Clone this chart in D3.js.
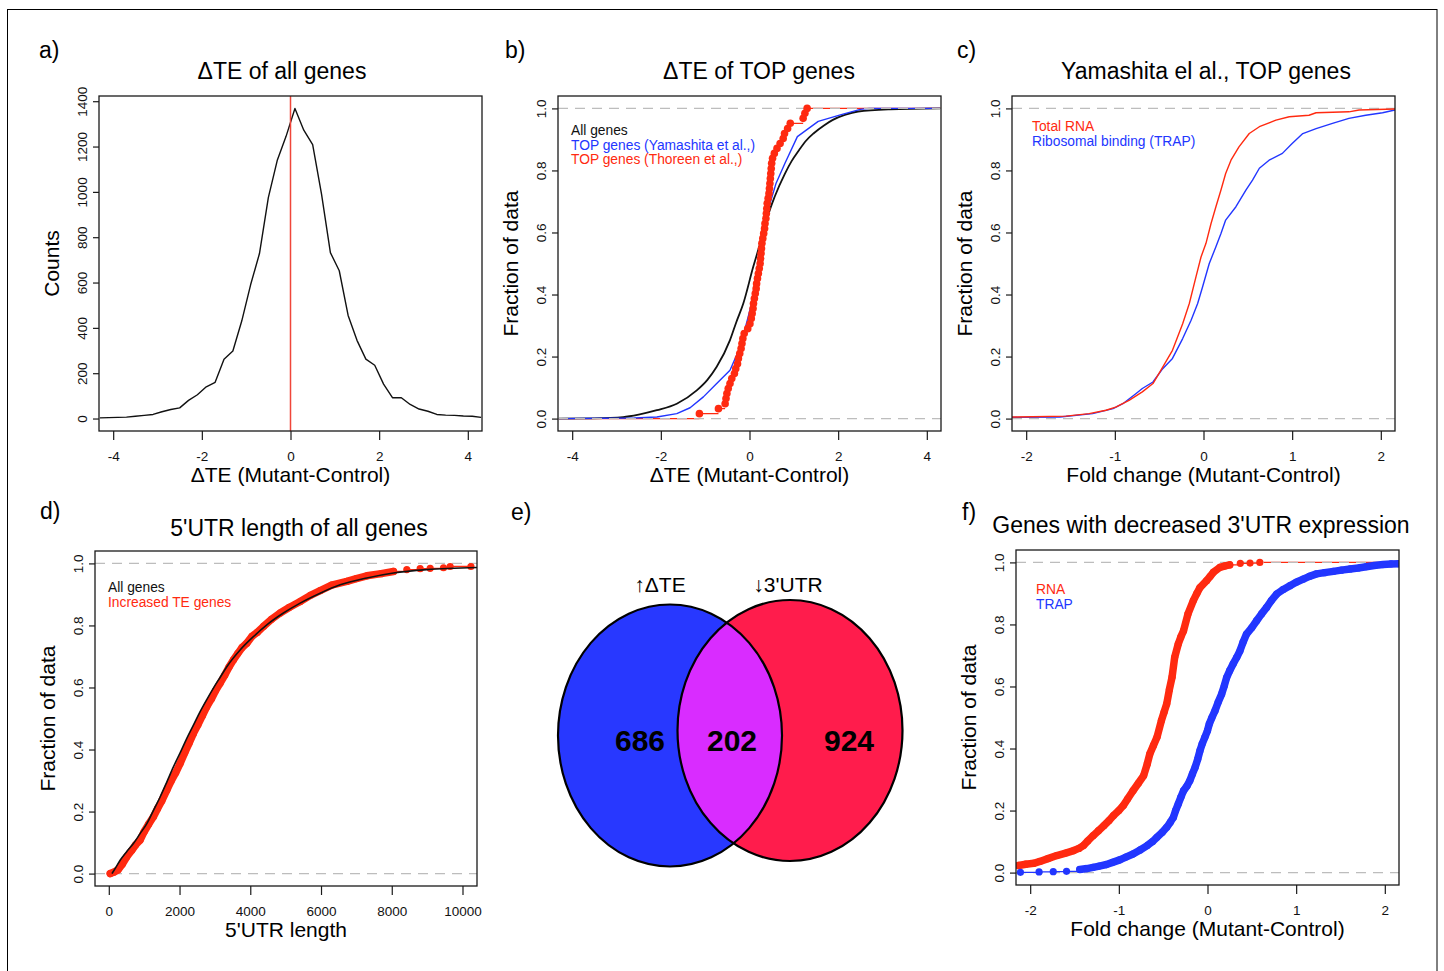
<!DOCTYPE html>
<html>
<head>
<meta charset="utf-8">
<script src="https://cdnjs.cloudflare.com/ajax/libs/d3/7.8.5/d3.min.js"></script>
<style>
body { margin: 0; background: #fff; }
svg { font-family: "Liberation Sans", Arial, Helvetica, sans-serif; }
</style>
</head>
<body>
<div id="chart"></div>
<script>
// ---- panel a: histogram of dTE (bin centre, count)
const aBins = [-4.3,-4.1,-3.9,-3.7,-3.5,-3.3,-3.1,-2.9,-2.7,-2.5,-2.3,-2.1,-1.9,-1.7,-1.5,-1.3,-1.1,-0.9,-0.7,-0.5,-0.3,-0.1,
               0.1,0.3,0.5,0.7,0.9,1.1,1.3,1.5,1.7,1.9,2.1,2.3,2.5,2.7,2.9,3.1,3.3,3.5,3.7,3.9,4.1,4.3];
const aCounts = [3,4,5,6,10,14,18,30,40,47,80,105,140,160,262,298,430,590,728,975,1138,1245,
                 1368,1272,1208,990,732,652,455,345,262,235,152,92,92,62,42,32,18,15,14,11,10,5];

// ---- panel b: ECDFs of dTE
const bAll = [[-4.3,0],[-3.5,0.001],[-2.85,0.005],[-2.5,0.013],[-2.09,0.027],[-1.64,0.048],[-1.19,0.091],[-0.95,0.125],
              [-0.74,0.167],[-0.44,0.253],[-0.3,0.31],[-0.14,0.371],[0.086,0.49],[0.2,0.545],[0.31,0.597],[0.43,0.66],
              [0.57,0.716],[0.8,0.79],[0.95,0.83],[1.12,0.866],[1.27,0.895],[1.45,0.92],[1.68,0.945],[1.88,0.963],
              [2.15,0.979],[2.45,0.99],[3.17,0.997],[4.3,1.0]];
const bYamashita = [[-4.3,0],[-2.6,0.002],[-2.09,0.005],[-1.64,0.016],[-1.34,0.035],[-1.04,0.07],[-0.74,0.113],[-0.44,0.156],
                    [-0.21,0.231],[-0.03,0.328],[0.16,0.436],[0.30,0.565],[0.42,0.673],[0.60,0.759],[0.80,0.823],[1.08,0.909],
                    [1.55,0.958],[2.05,0.979],[2.5,0.997],[2.7,1.0],[4.3,1.0]];
const bThoreen = [[-1.13,0.016],[-0.70,0.032],[-0.55,0.048],[-0.53,0.065],[-0.51,0.081],[-0.48,0.097],[-0.44,0.113],[-0.40,0.129],
                  [-0.34,0.145],[-0.31,0.161],[-0.27,0.177],[-0.25,0.194],[-0.22,0.210],[-0.19,0.226],[-0.17,0.242],[-0.15,0.258],
                  [-0.12,0.274],[-0.04,0.290],[0.01,0.306],[0.04,0.323],[0.06,0.339],[0.08,0.355],[0.09,0.371],[0.11,0.387],
                  [0.13,0.403],[0.15,0.419],[0.16,0.435],[0.18,0.452],[0.20,0.468],[0.22,0.484],[0.24,0.500],[0.25,0.516],
                  [0.26,0.532],[0.27,0.548],[0.28,0.565],[0.30,0.581],[0.32,0.597],[0.34,0.613],[0.35,0.629],[0.37,0.645],
                  [0.38,0.661],[0.39,0.677],[0.40,0.694],[0.42,0.710],[0.44,0.726],[0.45,0.742],[0.46,0.758],[0.47,0.774],
                  [0.48,0.790],[0.49,0.806],[0.50,0.823],[0.52,0.839],[0.56,0.855],[0.62,0.871],[0.69,0.887],[0.76,0.903],
                  [0.79,0.919],[0.86,0.935],[0.92,0.952],[1.21,0.968],[1.25,0.984],[1.30,1.0]];

// ---- panel c: Yamashita TOP genes, fold change
const cRna = [[-2.16,0.005],[-1.55,0.008],[-1.29,0.016],[-1.10,0.027],[-0.99,0.037],[-0.84,0.059],[-0.69,0.086],[-0.57,0.113],
              [-0.46,0.166],[-0.35,0.22],[-0.235,0.306],[-0.16,0.371],[-0.085,0.457],[-0.028,0.521],[0.028,0.565],[0.085,0.629],
              [0.14,0.683],[0.197,0.737],[0.25,0.79],[0.31,0.833],[0.40,0.876],[0.516,0.919],[0.63,0.941],[0.817,0.962],
              [0.967,0.973],[1.19,0.978],[1.27,0.986],[1.64,0.989],[1.755,0.995],[2.16,0.998]];
const cTrap = [[-2.16,0.004],[-1.62,0.005],[-1.25,0.016],[-1.02,0.032],[-0.91,0.048],[-0.76,0.081],[-0.69,0.097],[-0.57,0.118],
               [-0.46,0.161],[-0.35,0.194],[-0.235,0.258],[-0.14,0.317],[-0.066,0.371],[-0.01,0.425],[0.065,0.5],[0.14,0.554],
               [0.197,0.597],[0.25,0.64],[0.366,0.683],[0.48,0.737],[0.553,0.769],[0.63,0.807],[0.74,0.833],[0.89,0.855],
               [1.0,0.887],[1.12,0.919],[1.27,0.935],[1.455,0.952],[1.64,0.968],[1.83,0.978],[2.02,0.986],[2.16,0.995]];

// ---- panel d: 5'UTR length ECDF
const dAll = [[90,0],[200,0.02],[320,0.043],[500,0.07],[696,0.097],[880,0.128],[1075,0.161],[1260,0.203],[1451,0.247],
              [1640,0.295],[1827,0.344],[2020,0.39],[2206,0.436],[2400,0.48],[2582,0.522],[2770,0.561],[2958,0.598],
              [3150,0.633],[3337,0.667],[3713,0.721],[4089,0.764],[4468,0.802],[4938,0.84],[5410,0.872],[5976,0.904],
              [6541,0.931],[7296,0.953],[8049,0.969],[8993,0.98],[10410,0.987]];
const dIncreased = [[40,0.0],[150,0.005],[260,0.012],[380,0.03],[509,0.054],[650,0.075],[760,0.093],[885,0.108],[1000,0.135],
                    [1130,0.16],[1261,0.183],[1380,0.21],[1500,0.235],[1640,0.269],[1760,0.298],[1890,0.325],[2016,0.355],
                    [2150,0.39],[2270,0.42],[2392,0.452],[2520,0.48],[2650,0.51],[2771,0.538],[2900,0.563],[3020,0.59],
                    [3148,0.614],[3280,0.64],[3400,0.666],[3524,0.689],[3650,0.71],[3770,0.729],[3903,0.743],[4050,0.765],
                    [4200,0.778],[4374,0.797],[4600,0.82],[4844,0.84],[5100,0.858],[5410,0.877],[5700,0.897],[5976,0.912],
                    [6300,0.93],[6731,0.942],[7000,0.951],[7296,0.96],[7700,0.967],[8049,0.974]];
const dIncreasedTail = [[8426,0.98],[8803,0.983],[9086,0.984],[9463,0.986],[9651,0.99],[10238,0.99]];

// ---- panel e: venn counts
const vennLabels = ["\u2191\u0394TE", "\u21933'UTR"];
const vennCounts = [686, 202, 924];

// ---- panel f: genes with decreased 3'UTR expression
const fRna = [[-2.13,0.023],[-2.05,0.027],[-1.96,0.03],[-1.89,0.036],[-1.80,0.045],[-1.70,0.055],[-1.60,0.063],[-1.51,0.071],
              [-1.45,0.078],[-1.40,0.087],[-1.35,0.102],[-1.29,0.119],[-1.23,0.135],[-1.17,0.151],[-1.11,0.168],[-1.06,0.184],
              [-1.00,0.2],[-0.95,0.216],[-0.90,0.238],[-0.84,0.264],[-0.78,0.288],[-0.72,0.313],[-0.68,0.35],[-0.65,0.383],
              [-0.61,0.41],[-0.57,0.436],[-0.52,0.49],[-0.49,0.517],[-0.46,0.544],[-0.43,0.59],[-0.40,0.63],[-0.37,0.694],
              [-0.33,0.737],[-0.30,0.76],[-0.27,0.78],[-0.22,0.834],[-0.16,0.877],[-0.12,0.9],[-0.085,0.919],[-0.01,0.941],
              [0.03,0.955],[0.066,0.968],[0.14,0.984],[0.20,0.989],[0.25,0.992]];
const fRnaTail = [[0.37,0.997],[0.48,0.998],[0.59,1.0]];
const fTrapHead = [[-2.11,0.001],[-1.90,0.002],[-1.74,0.003],[-1.59,0.004]];
const fTrap = [[-1.44,0.01],[-1.36,0.013],[-1.29,0.017],[-1.22,0.021],[-1.14,0.026],[-1.07,0.033],[-0.99,0.041],[-0.92,0.05],
               [-0.84,0.06],[-0.76,0.073],[-0.68,0.087],[-0.62,0.1],[-0.57,0.114],[-0.51,0.13],[-0.46,0.146],[-0.42,0.162],
               [-0.385,0.178],[-0.36,0.2],[-0.33,0.221],[-0.30,0.243],[-0.27,0.264],[-0.23,0.28],[-0.20,0.296],[-0.17,0.318],
               [-0.14,0.339],[-0.11,0.366],[-0.085,0.393],[-0.06,0.415],[-0.03,0.436],[0.0,0.458],[0.02,0.479],[0.05,0.5],
               [0.085,0.522],[0.12,0.549],[0.16,0.576],[0.19,0.603],[0.216,0.629],[0.25,0.651],[0.29,0.673],[0.33,0.694],
               [0.366,0.715],[0.40,0.742],[0.44,0.769],[0.50,0.79],[0.554,0.812],[0.61,0.834],[0.667,0.855],[0.72,0.877],
               [0.78,0.898],[0.85,0.912],[0.93,0.925],[1.0,0.936],[1.08,0.946],[1.15,0.955],[1.23,0.963],[1.32,0.967],
               [1.42,0.971],[1.51,0.975],[1.61,0.979],[1.70,0.982],[1.79,0.986],[1.88,0.99],[1.98,0.993],[2.07,0.995],[2.16,0.996]];

const fracTicks = [0, 0.2, 0.4, 0.6, 0.8, 1.0];

const RED = "#ff2a10", BLUE = "#2236ff", GREY = "#bdbdbd", BOX = "#1a1a1a";

const W = 1444, H = 971;
const svg = d3.select("#chart").append("svg")
    .attr("width", W)
    .attr("height", H)
    .style("background", "#fff");

// outer frame of the figure
svg.append("rect")
    .attr("x", 7.5).attr("y", 9.5)
    .attr("width", 1429.5).attr("height", 1000)
    .attr("fill", "none").attr("stroke", "#000").attr("stroke-width", 1);

let clipId = 0;

function makePanel(o) {
    const x = d3.scaleLinear().domain(o.xDomain).range([o.left, o.right]);
    const y = d3.scaleLinear().domain(o.yDomain).range([o.bottom, o.top]);
    const g = svg.append("g");
    const id = "clip" + (clipId++);
    g.append("clipPath").attr("id", id)
        .append("rect")
        .attr("x", o.left).attr("y", o.top)
        .attr("width", o.right - o.left).attr("height", o.bottom - o.top);
    const plot = g.append("g").attr("clip-path", `url(#${id})`);

    // x axis
    const xa = g.append("g")
        .attr("transform", `translate(0,${o.bottom})`)
        .call(d3.axisBottom(x).tickValues(o.xTicks).tickSizeInner(9).tickSizeOuter(0).tickPadding(11)
            .tickFormat(o.xFormat || (d => d < 0 ? "-" + Math.abs(d) : String(d))));
    xa.select(".domain").remove();
    xa.selectAll("line").attr("stroke", BOX).attr("stroke-width", 1.2);
    xa.selectAll("text").attr("font-size", 13.5).attr("fill", "#111").attr("font-family", null);

    // y axis with labels parallel to the axis
    const ya = g.append("g")
        .attr("transform", `translate(${o.left},0)`)
        .call(d3.axisLeft(y).tickValues(o.yTicks).tickSizeInner(6).tickSizeOuter(0)
            .tickFormat(o.yFormat || d3.format(".1f")));
    ya.select(".domain").remove();
    ya.selectAll("line").attr("stroke", BOX).attr("stroke-width", 1.2);
    ya.selectAll("text")
        .attr("x", null).attr("dy", "0.35em")
        .attr("text-anchor", "middle")
        .attr("transform", "translate(-17,0) rotate(-90)")
        .attr("font-size", 13.5).attr("fill", "#111").attr("font-family", null);

    // box
    g.append("rect")
        .attr("x", o.left).attr("y", o.top)
        .attr("width", o.right - o.left).attr("height", o.bottom - o.top)
        .attr("fill", "none").attr("stroke", BOX).attr("stroke-width", 1.3);

    // texts
    g.append("text").attr("x", o.titleX).attr("y", o.titleY)
        .attr("text-anchor", "middle").attr("font-size", 23).text(o.title);
    g.append("text").attr("x", (o.left + o.right) / 2).attr("y", o.bottom + 51)
        .attr("text-anchor", "middle").attr("font-size", 21).text(o.xLabel);
    g.append("text")
        .attr("transform", `translate(${o.left - 47},${(o.top + o.bottom) / 2}) rotate(-90)`)
        .attr("dy", "0.35em")
        .attr("text-anchor", "middle").attr("font-size", 21).text(o.yLabel);
    g.append("text").attr("x", o.tagX).attr("y", o.tagY)
        .attr("font-size", 23).text(o.tag);

    return { g, plot, x, y, o };
}

function drawLine(p, pts, color, width, curve) {
    return p.plot.append("path")
        .datum(pts)
        .attr("fill", "none")
        .attr("stroke", color)
        .attr("stroke-width", width)
        .attr("stroke-linejoin", "round")
        .attr("d", d3.line().curve(curve || d3.curveLinear).x(d => p.x(d[0])).y(d => p.y(d[1])));
}

// thick stroke imitating overlapping points
function drawBand(p, pts, color) {
    drawLine(p, pts, color, 7.5).attr("stroke-linecap", "round");
}

// ecdf horizontal steps (no verticals)
function drawSteps(p, pts, color) {
    let d = "";
    for (let i = 0; i < pts.length - 1; i++) {
        d += `M${p.x(pts[i][0])},${p.y(pts[i][1])}H${p.x(pts[i + 1][0])}`;
    }
    p.plot.append("path").attr("d", d)
        .attr("fill", "none").attr("stroke", color).attr("stroke-width", 1.3);
}

function drawDots(p, pts, color, r) {
    p.plot.append("g").selectAll("circle")
        .data(pts)
        .join("circle")
        .attr("cx", d => p.x(d[0]))
        .attr("cy", d => p.y(d[1]))
        .attr("r", r)
        .attr("fill", color);
}

function drawExtension(p, x0, x1, yv, color) {
    p.plot.append("line")
        .attr("x1", p.x(x0)).attr("x2", p.x(x1))
        .attr("y1", p.y(yv)).attr("y2", p.y(yv))
        .attr("stroke", color).attr("stroke-width", 1.4);
}

function drawZeroOne(p) {
    p.plot.append("g").selectAll("line")
        .data([0, 1])
        .join("line")
        .attr("x1", p.o.left).attr("x2", p.o.right)
        .attr("y1", d => p.y(d)).attr("y2", d => p.y(d))
        .attr("stroke", GREY).attr("stroke-width", 1.4)
        .attr("stroke-dasharray", "10,7");
}

function drawLegend(p, x, y0, items) {
    p.g.append("g").selectAll("text")
        .data(items)
        .join("text")
        .attr("x", x)
        .attr("y", (d, i) => y0 + i * 14.5)
        .attr("font-size", 13.8)
        .attr("fill", d => d[1])
        .text(d => d[0]);
}

// ================= a =================
const pa = makePanel({
    left: 99, right: 482, top: 96, bottom: 431,
    xDomain: [-4.32, 4.32], yDomain: [-55, 1423],
    xTicks: [-4, -2, 0, 2, 4], yTicks: d3.range(0, 1401, 200), yFormat: d3.format("d"),
    title: "\u0394TE of all genes", titleX: 282, titleY: 79,
    xLabel: "\u0394TE (Mutant-Control)", yLabel: "Counts",
    tag: "a)", tagX: 39, tagY: 58
});
drawLine(pa, aBins.map((b, i) => [b, aCounts[i]]), "#111", 1.4);
pa.plot.append("line")
    .attr("x1", pa.x(0)).attr("x2", pa.x(0))
    .attr("y1", pa.o.top).attr("y2", pa.o.bottom)
    .attr("stroke", "#f0463a").attr("stroke-width", 1.5);

// ================= b =================
const pb = makePanel({
    left: 558, right: 941, top: 96, bottom: 431,
    xDomain: [-4.32, 4.32], yDomain: [-0.04, 1.04],
    xTicks: [-4, -2, 0, 2, 4], yTicks: fracTicks,
    title: "\u0394TE of TOP genes", titleX: 759, titleY: 79,
    xLabel: "\u0394TE (Mutant-Control)", yLabel: "Fraction of data",
    tag: "b)", tagX: 505, tagY: 58
});
drawLine(pb, bAll, "#111", 1.8, d3.curveMonotoneX);
drawExtension(pb, -4.32, bThoreen[0][0], 0, RED);
drawExtension(pb, bThoreen[bThoreen.length - 1][0], 4.32, 1, RED);
drawLine(pb, bYamashita, BLUE, 1.4);
drawZeroOne(pb);
drawSteps(pb, bThoreen, RED);
drawDots(pb, bThoreen, RED, 3.8);
drawLegend(pb, 571, 135, [["All genes", "#111"], ["TOP genes (Yamashita et al.,)", BLUE], ["TOP genes (Thoreen et al.,)", RED]]);

// ================= c =================
const pc = makePanel({
    left: 1012, right: 1395, top: 96, bottom: 431,
    xDomain: [-2.16, 2.16], yDomain: [-0.04, 1.04],
    xTicks: [-2, -1, 0, 1, 2], yTicks: fracTicks,
    title: "Yamashita el al., TOP genes", titleX: 1206, titleY: 79,
    xLabel: "Fold change (Mutant-Control)", yLabel: "Fraction of data",
    tag: "c)", tagX: 957, tagY: 58
});
drawZeroOne(pc);
drawLine(pc, cTrap, BLUE, 1.4);
drawLine(pc, cRna, RED, 1.4);
drawLegend(pc, 1032, 131, [["Total RNA", RED], ["Ribosomal binding (TRAP)", BLUE]]);

// ================= d =================
const pd = makePanel({
    left: 95, right: 477, top: 551, bottom: 886,
    xDomain: [-390, 10410], yDomain: [-0.04, 1.04],
    xTicks: d3.range(0, 10001, 2000), yTicks: fracTicks, xFormat: d3.format("d"),
    title: "5'UTR length of all genes", titleX: 299, titleY: 536,
    xLabel: "5'UTR length", yLabel: "Fraction of data",
    tag: "d)", tagX: 40, tagY: 519
});
drawZeroOne(pd);
drawBand(pd, dIncreased, RED);
drawDots(pd, dIncreased.concat(dIncreasedTail), RED, 3.6);
drawSteps(pd, dIncreased.slice(-1).concat(dIncreasedTail), RED);
drawLine(pd, dAll, "#111", 1.6, d3.curveMonotoneX);
drawLegend(pd, 108, 592, [["All genes", "#111"], ["Increased TE genes", RED]]);

// ================= e =================
const ge = svg.append("g");
ge.append("text").attr("x", 511).attr("y", 520).attr("font-size", 23).text("e)");
const ellipses = [
    { cx: 670, cy: 735.5, rx: 112, ry: 131, fill: "#2838ff" },
    { cx: 790, cy: 730.5, rx: 112.5, ry: 130.5, fill: "#ff1c4c" }
];
ge.append("clipPath").attr("id", "vennClip")
    .append("ellipse")
    .attr("cx", ellipses[1].cx).attr("cy", ellipses[1].cy)
    .attr("rx", ellipses[1].rx).attr("ry", ellipses[1].ry);
ge.selectAll("ellipse.set")
    .data(ellipses)
    .join("ellipse")
    .attr("class", "set")
    .attr("cx", d => d.cx).attr("cy", d => d.cy)
    .attr("rx", d => d.rx).attr("ry", d => d.ry)
    .attr("fill", d => d.fill);
ge.append("ellipse")
    .attr("clip-path", "url(#vennClip)")
    .attr("cx", ellipses[0].cx).attr("cy", ellipses[0].cy)
    .attr("rx", ellipses[0].rx).attr("ry", ellipses[0].ry)
    .attr("fill", "#d92cff");
ge.selectAll("ellipse.outline")
    .data(ellipses)
    .join("ellipse")
    .attr("class", "outline")
    .attr("cx", d => d.cx).attr("cy", d => d.cy)
    .attr("rx", d => d.rx).attr("ry", d => d.ry)
    .attr("fill", "none").attr("stroke", "#000").attr("stroke-width", 2.2);
ge.selectAll("text.lab")
    .data(vennLabels)
    .join("text")
    .attr("class", "lab")
    .attr("x", (d, i) => [660, 788][i])
    .attr("y", 592)
    .attr("text-anchor", "middle")
    .attr("font-size", 21)
    .text(d => d);
ge.selectAll("text.num")
    .data(vennCounts)
    .join("text")
    .attr("class", "num")
    .attr("x", (d, i) => [640, 732, 849][i])
    .attr("y", 751)
    .attr("text-anchor", "middle")
    .attr("font-size", 30)
    .attr("font-weight", "bold")
    .text(d => d);

// ================= f =================
const pf = makePanel({
    left: 1016, right: 1399, top: 550, bottom: 885,
    xDomain: [-2.16, 2.16], yDomain: [-0.04, 1.04],
    xTicks: [-2, -1, 0, 1, 2], yTicks: fracTicks,
    title: "Genes with decreased 3'UTR expression", titleX: 1201, titleY: 533,
    xLabel: "Fold change (Mutant-Control)", yLabel: "Fraction of data",
    tag: "f)", tagX: 962, tagY: 520
});
drawExtension(pf, fRnaTail[fRnaTail.length - 1][0], 2.16, 1, RED);
drawExtension(pf, -2.16, fTrapHead[0][0], 0, BLUE);
drawZeroOne(pf);
drawSteps(pf, fRna.slice(-1).concat(fRnaTail), RED);
drawBand(pf, fRna, RED);
drawDots(pf, fRna.concat(fRnaTail), RED, 3.6);
drawSteps(pf, fTrapHead.concat(fTrap.slice(0, 1)), BLUE);
drawBand(pf, fTrap, BLUE);
drawDots(pf, fTrapHead.concat(fTrap), BLUE, 3.6);
drawLegend(pf, 1036, 594, [["RNA", RED], ["TRAP", BLUE]]);
</script>
</body>
</html>
